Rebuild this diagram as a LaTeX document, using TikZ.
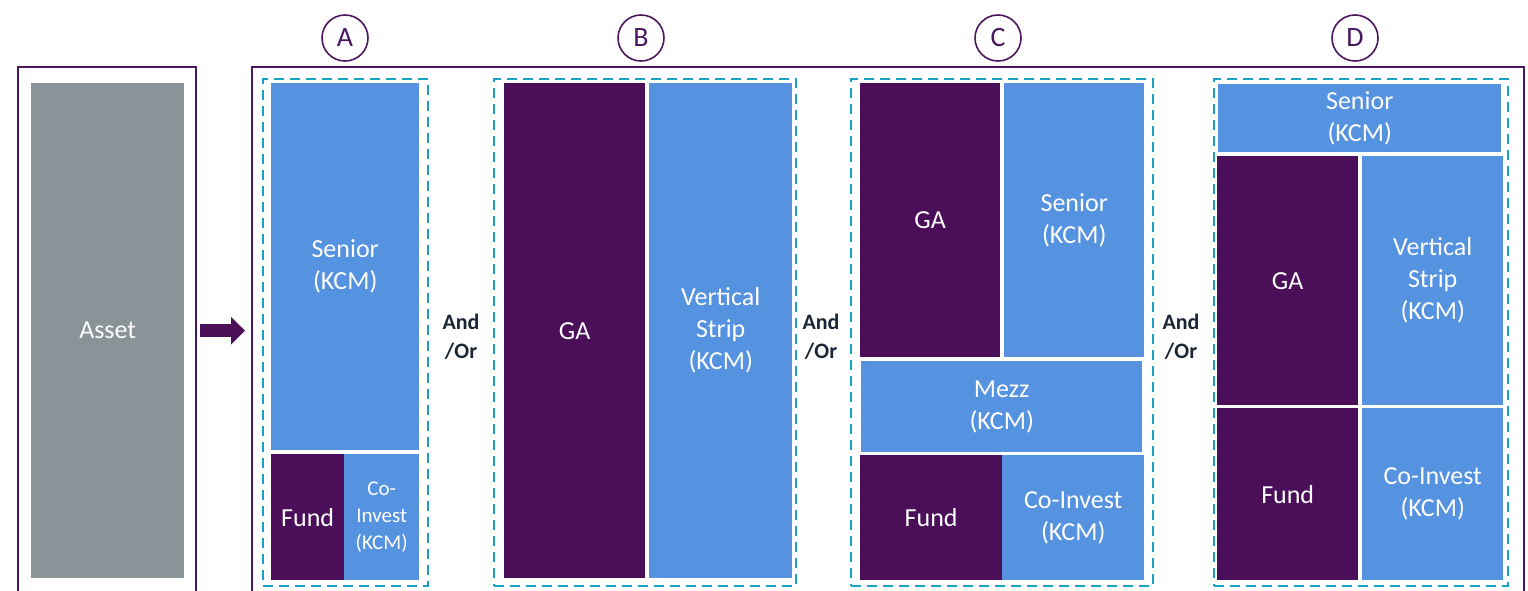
\documentclass[tikz,border=0pt]{standalone}
\usepackage{fontspec}
\setmainfont{Carlito}
\usetikzlibrary{arrows.meta,positioning}
\definecolor{gaC}{HTML}{4A0F58}
\definecolor{kcmC}{HTML}{5592DF}
\definecolor{assetC}{HTML}{8A9398}
\definecolor{dashC}{HTML}{1BA3C6}
\definecolor{frameC}{HTML}{4B1660}
\definecolor{navyC}{HTML}{1B2636}
\tikzset{
  blk/.style={rectangle, fill=#1, draw=none, inner sep=0pt, anchor=north west,
              text=white, align=center, font=\fontsize{26}{32}\selectfont},
  dashbox/.style={rectangle, draw=dashC, line width=2.4pt, dash pattern=on 10pt off 6pt,
                  inner sep=0pt, anchor=north west},
  frame/.style={rectangle, draw=frameC, line width=2pt, inner sep=0pt, anchor=north west},
  tag/.style={circle, draw=frameC, line width=1.6pt, minimum size=46pt, inner sep=0pt,
              text=frameC, font=\fontsize{28}{28}\selectfont},
  andor/.style={align=center, text=navyC, font=\bfseries\fontsize{22}{29}\selectfont},
  arr/.style={-{Triangle[length=14pt, width=27pt]}, line width=13pt, draw=gaC,
              shorten <=3pt, shorten >=6pt},
}
\begin{document}
\begin{tikzpicture}[x=1pt, y=-1pt]
  \useasboundingbox (0,0) rectangle (1528,591);
  \clip (0,0) rectangle (1528,591);
  % frames
  \node[frame, minimum width=178pt, minimum height=560pt] (assetframe) at (17,66) {};
  \node[frame, minimum width=1272pt, minimum height=560pt] (mainframe) at (251,66) {};
  \node[blk=assetC, minimum width=153pt, minimum height=495pt] (asset) at (31,83) {Asset};
  \draw[arr] (assetframe.east |- asset.east) -- (mainframe.west |- asset.east);
  % option tags
  \node[tag] (tagA) at (345,38) {A};
  \node[tag] (tagB) at (641,38) {B};
  \node[tag] (tagC) at (998,38) {C};
  \node[tag] (tagD) at (1355,38) {D};
  % option A
  \node[dashbox, minimum width=165pt, minimum height=507pt] (dashA) at (262,78) {};
  \node[blk=kcmC, minimum width=148pt, minimum height=367pt] (aSenior) at (271,83) {Senior\\(KCM)};
  \node[blk=gaC, minimum width=73pt, minimum height=126pt] (aFund) at (271,454) {Fund};
  \node[blk=kcmC, minimum width=75pt, minimum height=126pt, font=\fontsize{21}{27}\selectfont]
    (aCoinv) at (344,454) {Co-\\Invest\\(KCM)};
  \node[andor] (orAB) at (461,337) {And\\/Or};
  % option B
  \node[dashbox, minimum width=302pt, minimum height=507pt] (dashB) at (493,78) {};
  \node[blk=gaC, minimum width=141pt, minimum height=495pt] (bGA) at (504,83) {GA};
  \node[blk=kcmC, minimum width=143pt, minimum height=495pt] (bStrip) at (649,83) {Vertical\\Strip\\(KCM)};
  \node[andor] (orBC) at (821,337) {And\\/Or};
  % option C
  \node[dashbox, minimum width=302pt, minimum height=507pt] (dashC) at (850,78) {};
  \node[blk=gaC, minimum width=140pt, minimum height=274pt] (cGA) at (860,83) {GA};
  \node[blk=kcmC, minimum width=140pt, minimum height=274pt] (cSenior) at (1004,83) {Senior\\(KCM)};
  \node[blk=kcmC, minimum width=281pt, minimum height=91pt] (cMezz) at (861,361) {Mezz\\(KCM)};
  \node[blk=gaC, minimum width=142pt, minimum height=125pt] (cFund) at (860,455) {Fund};
  \node[blk=kcmC, minimum width=142pt, minimum height=125pt] (cCoinv) at (1002,455) {Co-Invest\\(KCM)};
  \node[andor] (orCD) at (1181,337) {And\\/Or};
  % option D
  \node[dashbox, minimum width=294pt, minimum height=507pt] (dashD) at (1213,78) {};
  \node[blk=kcmC, minimum width=283pt, minimum height=68pt] (dSenior) at (1218,84) {Senior\\(KCM)};
  \node[blk=gaC, minimum width=141pt, minimum height=249pt] (dGA) at (1217,156) {GA};
  \node[blk=kcmC, minimum width=141pt, minimum height=249pt] (dStrip) at (1362,156) {Vertical\\Strip\\(KCM)};
  \node[blk=gaC, minimum width=141pt, minimum height=172pt] (dFund) at (1217,408) {Fund};
  \node[blk=kcmC, minimum width=141pt, minimum height=172pt] (dCoinv) at (1362,408) {Co-Invest\\(KCM)};
\end{tikzpicture}
\end{document}
